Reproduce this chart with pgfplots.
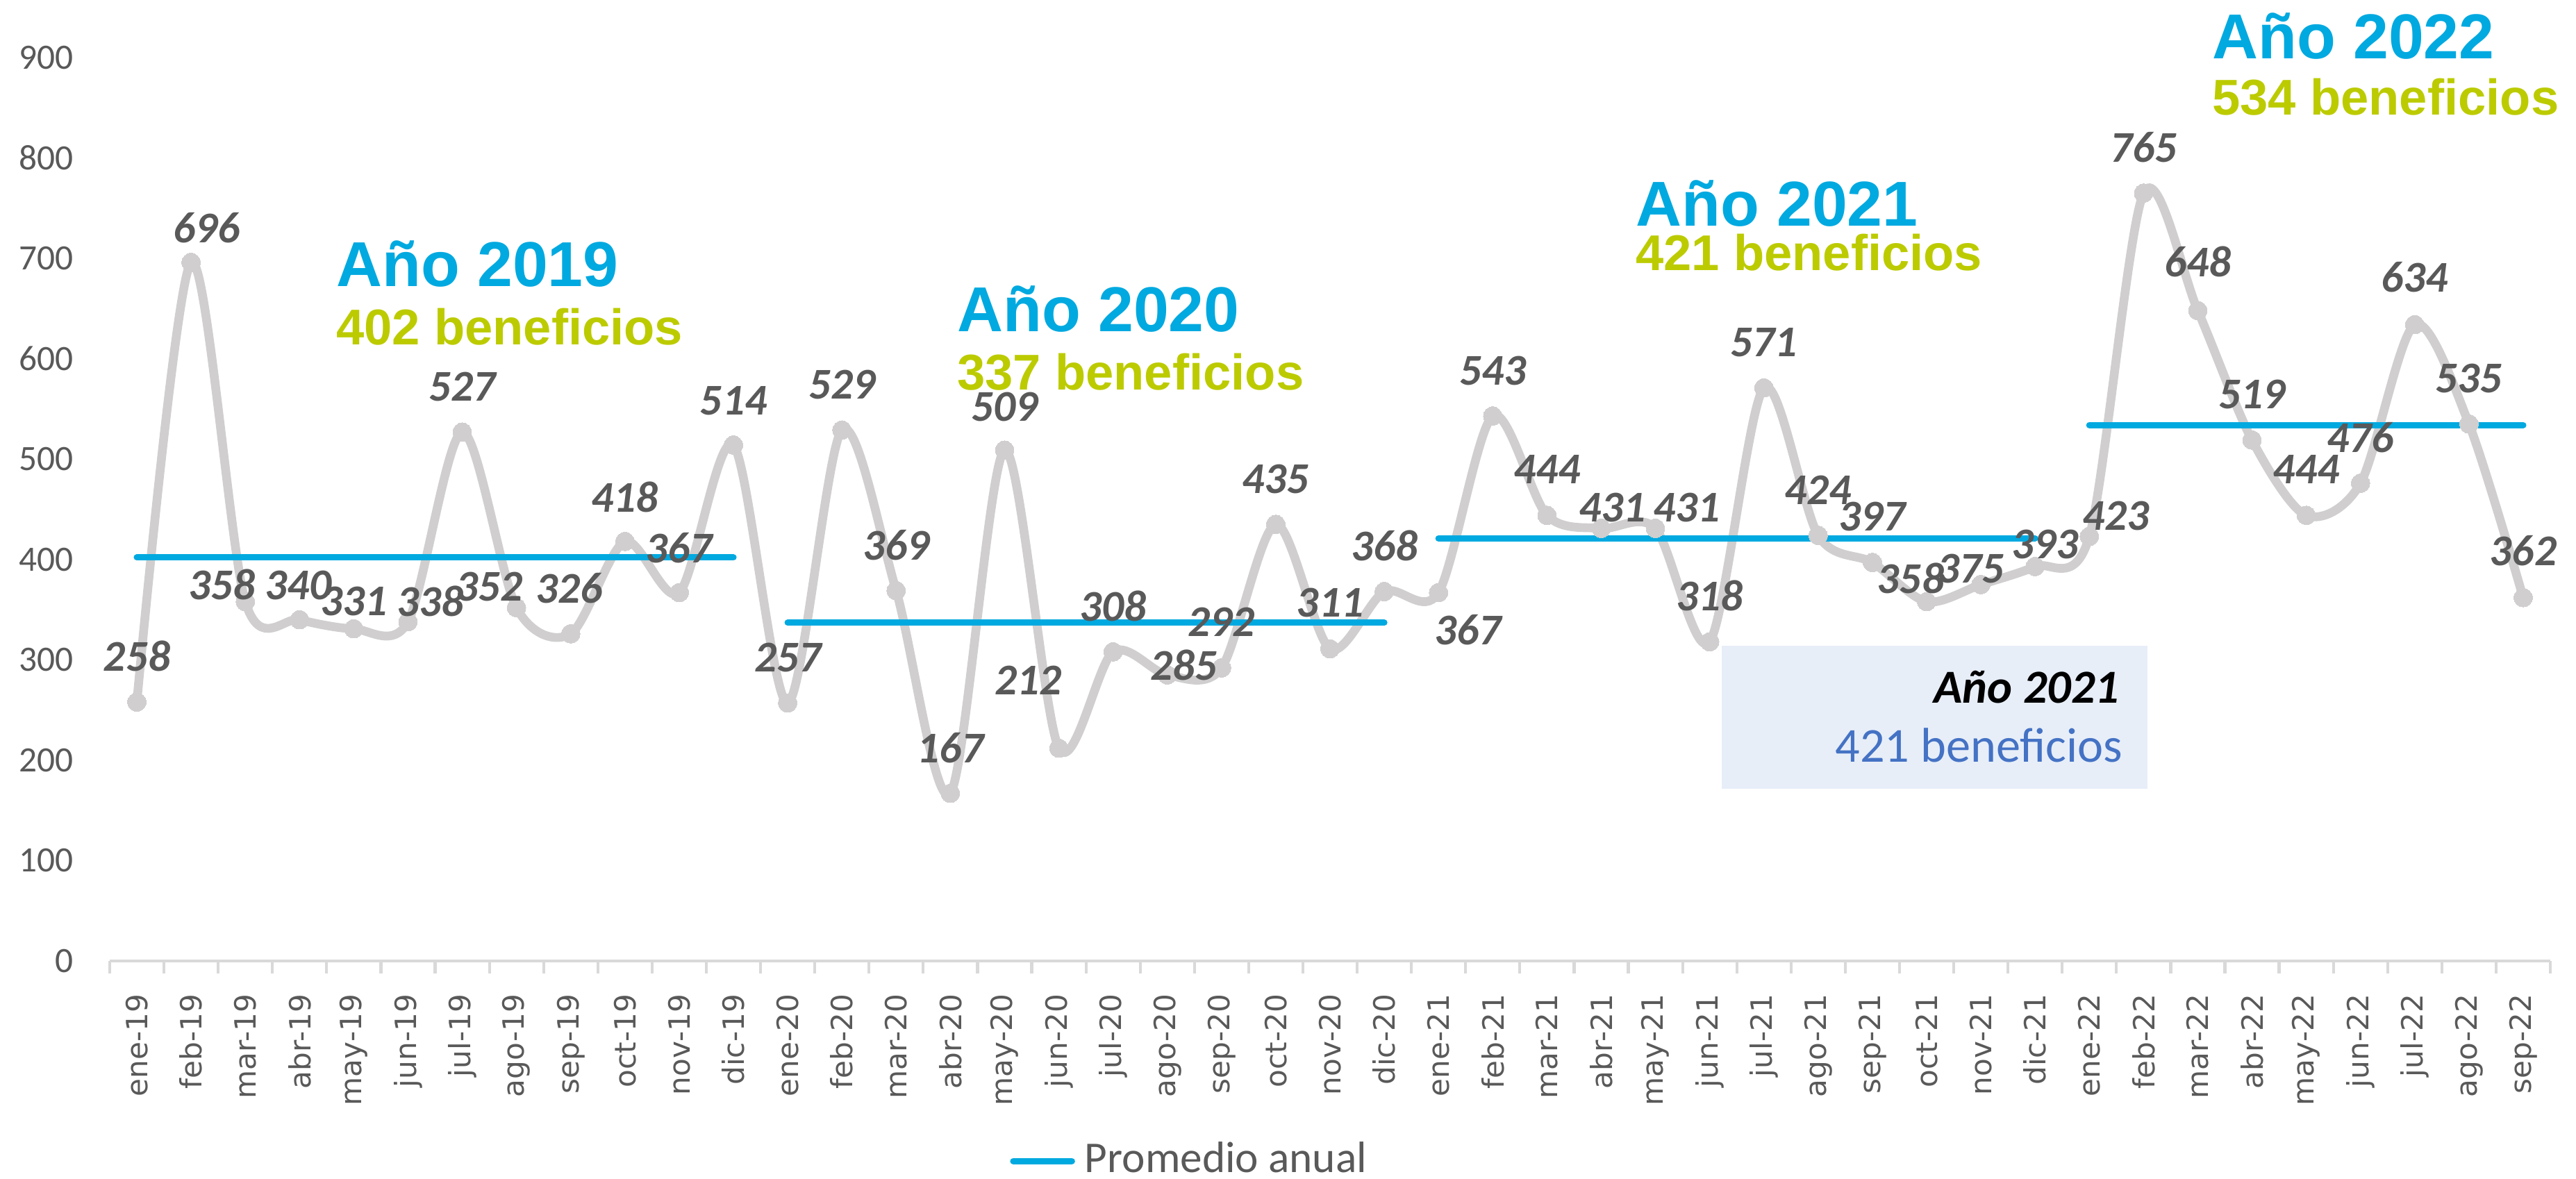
\documentclass[border=0pt]{standalone}
\usepackage{fontspec}
\setmainfont{Carlito}
\newfontfamily\dejavu{DejaVu Sans}
\newfontfamily\arialb{Liberation Sans}
\usepackage{pgfplots}
\usepackage{pgfplotstable}
\pgfplotsset{compat=1.18}

\definecolor{lgray}{HTML}{D0CECE}
\definecolor{lblgray}{HTML}{595959}
\definecolor{avgblue}{HTML}{00A9E0}
\definecolor{lime}{HTML}{BCCB00}
\definecolor{boxfill}{HTML}{E7EEF8}
\definecolor{boxblue}{HTML}{4472C4}
\definecolor{axgray}{HTML}{D9D9D9}

% monthly values; dx, dy = label offset (right, up) in image px
\pgfplotstableread{
x y dx dy
0 258 0 66
1 696 22 50
2 358 -34 25
3 340 -2 50
4 331 0 40
5 338 32 30
6 527 0 65
7 352 -39 30
8 326 -2 66
9 418 0 64
10 367 0 64
11 514 0 64
12 257 0 66
13 529 0 65
14 369 0 65
15 167 0 65
16 509 0 62
17 212 -44 98
18 308 0 66
19 285 24 14
20 292 0 66
21 435 0 65
22 311 0 66
23 368 0 66
24 367 42 -54
25 543 0 65
26 444 0 66
27 431 16 30
28 431 45 30
29 318 0 66
30 571 0 65
31 424 0 65
32 397 0 66
33 358 -23 34
34 375 -15 23
35 393 14 32
36 423 38 30
37 765 0 66
38 648 0 70
39 519 0 66
40 444 0 66
41 476 0 66
42 634 0 68
43 535 0 66
44 362 0 68
}\beneficios

\begin{document}
\begin{tikzpicture}
\path[use as bounding box] (-0.79cm,-1.565cm) rectangle (17.755cm,6.92cm);
\begin{axis}[
  at={(0,0)}, anchor=south west, scale only axis,
  width=17.57cm, height=6.505cm,
  xmin=-0.5, xmax=44.5, ymin=0, ymax=900,
  clip=false,
  axis x line*=bottom, axis y line*=left,
  x axis line style={axgray, line width=0.6pt},
  y axis line style={draw=none},
  xtick={0,...,44},
  xticklabels={ene-19,feb-19,mar-19,abr-19,may-19,jun-19,jul-19,ago-19,sep-19,oct-19,nov-19,dic-19,
    ene-20,feb-20,mar-20,abr-20,may-20,jun-20,jul-20,ago-20,sep-20,oct-20,nov-20,dic-20,
    ene-21,feb-21,mar-21,abr-21,may-21,jun-21,jul-21,ago-21,sep-21,oct-21,nov-21,dic-21,
    ene-22,feb-22,mar-22,abr-22,may-22,jun-22,jul-22,ago-22,sep-22},
  minor xtick={-0.5,0.5,...,44.5},
  major tick length=0pt, minor tick length=2.6pt, tick align=outside,
  minor tick style={axgray, line width=0.6pt},
  ytick={0,100,...,900}, ytick style={draw=none},
  xticklabel style={font=\dejavu\fontsize{6}{7}\selectfont, color=lblgray, rotate=90, anchor=east, xshift=-3.3pt},
  yticklabel style={font=\fontsize{7.3}{8}\selectfont, color=lblgray, xshift=-4pt},
  /pgf/number format/assume math mode=true,
  legend style={draw=none, fill=none, at={(0.444,0)}, anchor=center, yshift=-41pt,
    font=\fontsize{9}{10}\selectfont, text=lblgray},
  legend image code/.code={\draw[#1, line cap=round] (0pt,0pt) -- (12pt,0pt);},
]
  % annotation box behind the series
  \fill[boxfill] (axis cs:29.22,171.6) rectangle (axis cs:37.07,314);

  \addplot[lgray, line width=1.8pt, smooth, tension=0.5, mark=*, mark size=1.9pt,
    mark options={fill=lgray, draw=lgray, line width=0pt}, forget plot]
    table[x=x, y=y] {\beneficios};

  \addplot[avgblue, line width=1.3pt, line cap=round] coordinates {(0,402) (11,402)};
  \addlegendentry{Promedio anual}
  \addplot[avgblue, line width=1.3pt, line cap=round, forget plot] coordinates {(12,337) (23,337)};
  \addplot[avgblue, line width=1.3pt, line cap=round, forget plot] coordinates {(24,421) (35,421)};
  \addplot[avgblue, line width=1.3pt, line cap=round, forget plot] coordinates {(36,534) (44,534)};

  % data labels on top
  \addplot[draw=none, mark=none, forget plot, point meta=y,
    nodes near coords,
    visualization depends on={\thisrow{dx} \as \lbx},
    visualization depends on={\thisrow{dy} \as \lby},
    nodes near coords style={anchor=center, xshift=\lbx*0.1423pt, yshift=\lby*0.1423pt,
      font=\bfseries\itshape\fontsize{9}{10}\selectfont, text=lblgray}]
    table[x=x, y=y] {\beneficios};

  \node[anchor=base west, inner sep=0pt, font=\arialb\bfseries\fontsize{13}{14}\selectfont, text=avgblue] at (axis cs:3.66,672) {Año 2019};
  \node[anchor=base west, inner sep=0pt, font=\arialb\bfseries\fontsize{10.3}{12}\selectfont, text=lime] at (axis cs:3.66,614) {402 beneficios};
  \node[anchor=base west, inner sep=0pt, font=\arialb\bfseries\fontsize{13}{14}\selectfont, text=avgblue] at (axis cs:15.11,627) {Año 2020};
  \node[anchor=base west, inner sep=0pt, font=\arialb\bfseries\fontsize{10.3}{12}\selectfont, text=lime] at (axis cs:15.11,569) {337 beneficios};
  \node[anchor=base west, inner sep=0pt, font=\arialb\bfseries\fontsize{13}{14}\selectfont, text=avgblue] at (axis cs:27.62,732) {Año 2021};
  \node[anchor=base west, inner sep=0pt, font=\arialb\bfseries\fontsize{10.3}{12}\selectfont, text=lime] at (axis cs:27.62,688) {421 beneficios};
  \node[anchor=base west, inner sep=0pt, font=\arialb\bfseries\fontsize{13}{14}\selectfont, text=avgblue] at (axis cs:38.25,899) {Año 2022};
  \node[anchor=base west, inner sep=0pt, font=\arialb\bfseries\fontsize{10.3}{12}\selectfont, text=lime] at (axis cs:38.25,843) {534 beneficios};

  \node[anchor=base east, inner sep=0pt, font=\bfseries\itshape\fontsize{9.7}{11}\selectfont] at (axis cs:36.57,257) {Año 2021};
  \node[anchor=base east, inner sep=0pt, font=\fontsize{10}{11}\selectfont, text=boxblue] at (axis cs:36.63,198) {421 beneficios};
\end{axis}
\end{tikzpicture}
\end{document}
